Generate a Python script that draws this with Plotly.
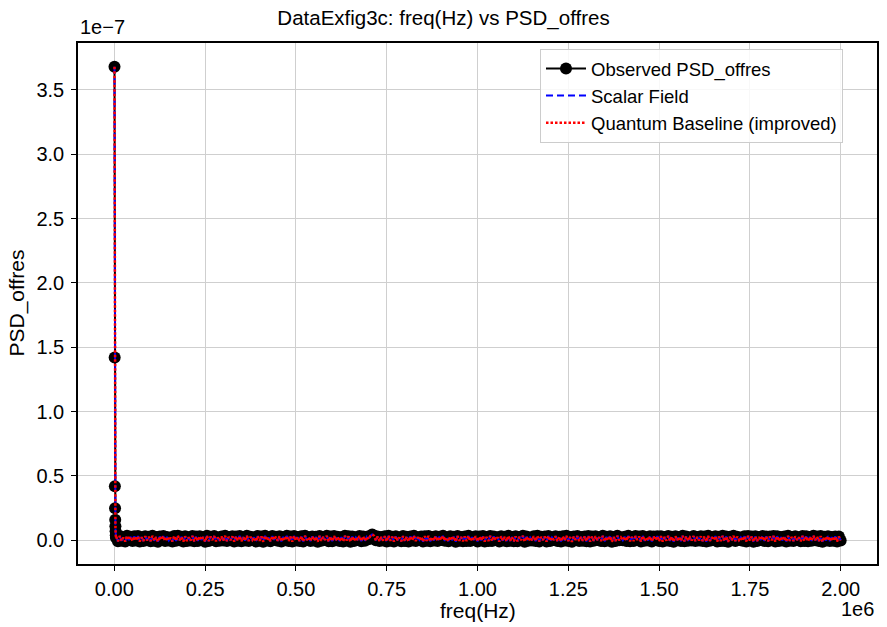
import plotly.graph_objects as go

# ---------------- data ----------------
# low-frequency spike region (Hz) and PSD values (units of 1e-7)
spike_freq = [500, 1000, 1500, 2000, 2500, 3000, 3500, 4000, 4500]
spike_psd_e7 = [3.68, 1.42, 0.42, 0.25, 0.16, 0.11, 0.07, 0.04, 0.02]

# flat region frequencies (kHz)
flat_freq_khz = [
    5, 10, 15, 20, 25, 30, 35, 40, 45, 50, 55, 60, 65, 70, 75, 80, 85, 90, 95, 100,
    105, 110, 115, 120, 125, 130, 135, 140, 145, 150, 155, 160, 165, 170, 175, 180, 185, 190, 195, 200,
    205, 210, 215, 220, 225, 230, 235, 240, 245, 250, 255, 260, 265, 270, 275, 280, 285, 290, 295, 300,
    305, 310, 315, 320, 325, 330, 335, 340, 345, 350, 355, 360, 365, 370, 375, 380, 385, 390, 395, 400,
    405, 410, 415, 420, 425, 430, 435, 440, 445, 450, 455, 460, 465, 470, 475, 480, 485, 490, 495, 500,
    505, 510, 515, 520, 525, 530, 535, 540, 545, 550, 555, 560, 565, 570, 575, 580, 585, 590, 595, 600,
    605, 610, 615, 620, 625, 630, 635, 640, 645, 650, 655, 660, 665, 670, 675, 680, 685, 690, 695, 700,
    705, 710, 715, 720, 725, 730, 735, 740, 745, 750, 755, 760, 765, 770, 775, 780, 785, 790, 795, 800,
    805, 810, 815, 820, 825, 830, 835, 840, 845, 850, 855, 860, 865, 870, 875, 880, 885, 890, 895, 900,
    905, 910, 915, 920, 925, 930, 935, 940, 945, 950, 955, 960, 965, 970, 975, 980, 985, 990, 995, 1000,
    1005, 1010, 1015, 1020, 1025, 1030, 1035, 1040, 1045, 1050, 1055, 1060, 1065, 1070, 1075, 1080, 1085, 1090, 1095, 1100,
    1105, 1110, 1115, 1120, 1125, 1130, 1135, 1140, 1145, 1150, 1155, 1160, 1165, 1170, 1175, 1180, 1185, 1190, 1195, 1200,
    1205, 1210, 1215, 1220, 1225, 1230, 1235, 1240, 1245, 1250, 1255, 1260, 1265, 1270, 1275, 1280, 1285, 1290, 1295, 1300,
    1305, 1310, 1315, 1320, 1325, 1330, 1335, 1340, 1345, 1350, 1355, 1360, 1365, 1370, 1375, 1380, 1385, 1390, 1395, 1400,
    1405, 1410, 1415, 1420, 1425, 1430, 1435, 1440, 1445, 1450, 1455, 1460, 1465, 1470, 1475, 1480, 1485, 1490, 1495, 1500,
    1505, 1510, 1515, 1520, 1525, 1530, 1535, 1540, 1545, 1550, 1555, 1560, 1565, 1570, 1575, 1580, 1585, 1590, 1595, 1600,
    1605, 1610, 1615, 1620, 1625, 1630, 1635, 1640, 1645, 1650, 1655, 1660, 1665, 1670, 1675, 1680, 1685, 1690, 1695, 1700,
    1705, 1710, 1715, 1720, 1725, 1730, 1735, 1740, 1745, 1750, 1755, 1760, 1765, 1770, 1775, 1780, 1785, 1790, 1795, 1800,
    1805, 1810, 1815, 1820, 1825, 1830, 1835, 1840, 1845, 1850, 1855, 1860, 1865, 1870, 1875, 1880, 1885, 1890, 1895, 1900,
    1905, 1910, 1915, 1920, 1925, 1930, 1935, 1940, 1945, 1950, 1955, 1960, 1965, 1970, 1975, 1980, 1985, 1990, 1995, 2000,
]
# flat region PSD values (units of 1e-10), noisy around zero
flat_psd_e10 = [
    30, -8, 34, -4, 22, -10, 35, 2, 27, -6, 31, -2, 33, -9, 24, -5, 32, 0, 28, -7,
    35, -3, 25, -11, 30, 4, 33, -6, 26, -1, 21, -9, 34, -4, 35, 1, 27, -10, 31, -5,
    23, -2, 34, -8, 29, -5, 32, 3, 25, -11, 35, -6, 28, 2, 33, -7, 22, -3, 30, -1,
    35, -6, 26, 1, 31, -10, 29, -4, 34, -8, 24, -2, 35, -5, 27, 3, 23, -9, 33, -3,
    30, -11, 35, -1, 22, -7, 33, 4, 28, -4, 31, -9, 26, 0, 35, -6, 29, -10, 34, -2,
    25, -5, 32, -9, 35, 2, 23, -6, 30, -1, 27, -11, 34, -4, 26, 3, 35, -8, 29, -7,
    33, 1, 28, -6, 24, -9, 35, -2, 31, -11, 29, -5, 23, 2, 34, -7, 30, -3, 27, 8,
    34, 46, 36, 0, 29, -6, 25, -2, 32, -9, 35, -4, 28, -10, 31, 1, 22, -7, 33, -5,
    27, -9, 30, -2, 35, -6, 24, 3, 29, -10, 32, -4, 34, -8, 25, -1, 31, -6, 28, 2,
    35, -4, 22, -7, 31, 1, 28, -11, 33, -3, 26, -8, 30, -5, 35, -6, 24, 2, 32, -9,
    29, -1, 33, -9, 25, -5, 34, -6, 30, 3, 23, -10, 31, -2, 28, -7, 35, -4, 26, -8,
    31, -7, 26, 1, 35, -11, 29, -4, 22, -1, 32, -6, 35, -9, 27, 2, 30, -10, 34, -5,
    23, 2, 32, -6, 28, -9, 31, -1, 35, -5, 25, -11, 29, 3, 33, -6, 26, -4, 30, -8,
    34, -10, 29, -4, 31, 2, 24, -6, 35, -8, 27, -1, 32, -11, 25, -5, 35, 0, 22, 1,
    28, -5, 35, -8, 26, -6, 33, 3, 30, -10, 34, -4, 23, -1, 31, -9, 29, 2, 32, -6,
    32, -9, 25, -2, 34, -5, 28, -11, 31, 1, 26, -6, 35, -8, 30, -4, 22, -1, 33, -6,
    25, -1, 31, -6, 29, -10, 35, -4, 24, 2, 32, -9, 28, -5, 35, -6, 30, -11, 27, 1,
    35, -6, 28, 2, 22, -4, 32, -9, 34, -1, 29, -11, 31, -6, 25, 3, 33, -5, 30, -8,
    29, 1, 34, -10, 32, -6, 25, -1, 30, -9, 35, -4, 26, -6, 31, 2, 23, -8, 34, -5,
    31, -8, 26, -4, 35, 1, 29, -6, 33, -11, 28, -1, 32, -6, 25, -4, 30, -9, 29, -2,
]

# model curves overlap the observation (read from the red/blue lines on the spike)
scalar_spike_e7 = [3.68, 1.42, 0.42, 0.25, 0.16, 0.11, 0.07, 0.04, 0.02]
quantum_spike_e7 = [3.68, 1.42, 0.42, 0.25, 0.16, 0.11, 0.07, 0.04, 0.02]

x_tick_vals = [0, 250000, 500000, 750000, 1000000, 1250000, 1500000, 1750000, 2000000]
x_tick_text = ["0.00", "0.25", "0.50", "0.75", "1.00", "1.25", "1.50", "1.75", "2.00"]
y_tick_vals_e7 = [0.0, 0.5, 1.0, 1.5, 2.0, 2.5, 3.0, 3.5]
y_tick_text = ["0.0", "0.5", "1.0", "1.5", "2.0", "2.5", "3.0", "3.5"]

# ---------------- build series ----------------
freq = spike_freq + [f * 1000 for f in flat_freq_khz]
obs = [v * 1e-7 for v in spike_psd_e7] + [v * 1e-10 for v in flat_psd_e10]
scalar = [v * 1e-7 for v in scalar_spike_e7] + [v * 1e-10 for v in flat_psd_e10]
quantum = [v * 1e-7 for v in quantum_spike_e7] + [v * 1e-10 for v in flat_psd_e10]

FONT = "Liberation Sans, Arial, sans-serif"

fig = go.Figure()
fig.add_trace(go.Scatter(
    x=freq, y=obs, mode="lines+markers", name="Observed PSD_offres",
    line=dict(color="black", width=2),
    marker=dict(color="black", size=12, line=dict(width=0)),
))
fig.add_trace(go.Scatter(
    x=freq, y=scalar, mode="lines", name="Scalar Field",
    line=dict(color="blue", width=2, dash="7px,4px"),
))
fig.add_trace(go.Scatter(
    x=freq, y=quantum, mode="lines", name="Quantum Baseline (improved)",
    line=dict(color="red", width=2.5, dash="2.5px,2px"),
))

axis_common = dict(
    showline=True, linecolor="black", linewidth=1.5, mirror=True,
    ticks="outside", ticklen=5, tickwidth=1.3, tickcolor="black",
    showgrid=True, gridcolor="#cfcfcf", gridwidth=1.3, automargin=False,
    zeroline=False, tickfont=dict(size=20, color="black", family=FONT),
)

PLOT_L, PLOT_R, PLOT_T, PLOT_B = 78, 877, 43, 564
PW, PH = PLOT_R - PLOT_L, PLOT_B - PLOT_T

fig.update_layout(
    width=887, height=627,
    margin=dict(l=PLOT_L, r=887 - PLOT_R, t=PLOT_T, b=627 - PLOT_B, autoexpand=False),
    paper_bgcolor="white", plot_bgcolor="white",
    font=dict(family=FONT, color="black"),
    title=dict(text="DataExfig3c: freq(Hz) vs PSD_offres", x=0.5, xanchor="center",
               y=1 - 11 / 627, yanchor="top", font=dict(size=20.5, color="black")),
    xaxis=dict(range=[-100000, 2100000], tickvals=x_tick_vals, ticktext=x_tick_text,
               ticklabelstandoff=1, **axis_common),
    yaxis=dict(range=[-0.184e-7, 3.864e-7], tickvals=[v * 1e-7 for v in y_tick_vals_e7],
               ticktext=y_tick_text, ticklabelstandoff=3, **axis_common),
    legend=dict(x=(843 - PLOT_L) / PW, y=1 - 6 / PH, xanchor="right", yanchor="top",
                bgcolor="rgba(255,255,255,0.85)", bordercolor="#cccccc", borderwidth=1,
                font=dict(size=18.5, color="black"), tracegroupgap=0, itemwidth=40),
    showlegend=True,
    annotations=[
        dict(text="freq(Hz)", xref="paper", yref="paper", x=0.5,
             y=-(610 - PLOT_B) / PH, xanchor="center", yanchor="middle",
             showarrow=False, font=dict(size=21)),
        dict(text="PSD_offres", xref="paper", yref="paper", x=-(PLOT_L - 16) / PW,
             y=0.5, xanchor="center", yanchor="middle", textangle=-90,
             showarrow=False, font=dict(size=21)),
        dict(text="1e\u22127", xref="paper", yref="paper", x=0, y=1, xanchor="left",
             yanchor="bottom", showarrow=False, font=dict(size=20), yshift=3),
        dict(text="1e6", xref="paper", yref="paper", x=1, y=-(609 - PLOT_B) / PH,
             xanchor="right", yanchor="middle", showarrow=False, font=dict(size=20),
             xshift=-1),
    ],
)

fig.write_html("out.html", config={"displayModeBar": False},
               post_script="document.body.style.margin='0px';")
